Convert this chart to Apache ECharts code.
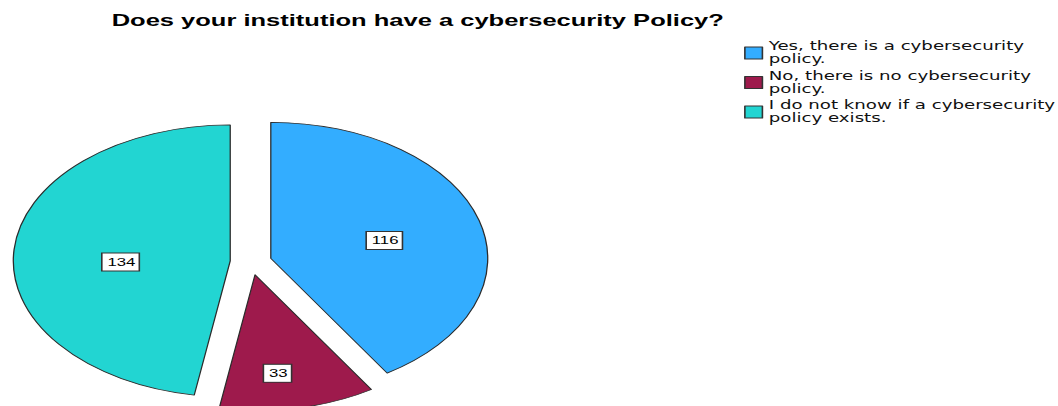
<!DOCTYPE html>
<html>
<head>
<meta charset="utf-8">
<script src="https://cdn.jsdelivr.net/npm/echarts@6/dist/echarts.min.js"></script>
<style>
  html, body { margin: 0; padding: 0; background: #fff; overflow: hidden; }
  /* the original picture is stretched sideways, so the whole chart is too */
  #myChart { position: absolute; left: 0; top: 0; width: 663.3px; height: 406px;
             transform: scaleX(1.595); transform-origin: 0 0; }
</style>
</head>
<body>
<div id="myChart"></div>
<script>
  var titleText = 'Does your institution have a cybersecurity Policy?';
  var categories = [
    'Yes, there is a cybersecurity policy.',
    'No, there is no cybersecurity policy.',
    'I do not know if a cybersecurity policy exists.'
  ];
  var counts = [116, 33, 134];
  var colors = ['#33adff', '#9e1a4c', '#22d5d2'];
  // label nudges, like the SPSS output
  var labelShift = [[3, 2], [0, 29], [2, 7]];

  var font = 'Liberation Sans, Arial, sans-serif';

  var myChart = echarts.init(document.getElementById('myChart'), null, { renderer: 'svg' });

  var legendLines = {};
  legendLines[categories[0]] = 'Yes, there is a cybersecurity\npolicy.';
  legendLines[categories[1]] = 'No, there is no cybersecurity\npolicy.';
  legendLines[categories[2]] = 'I do not know if a cybersecurity\npolicy exists.';

  var option = {
    animation: false,
    title: {
      text: titleText,
      left: 70,
      top: 13,
      padding: 0,
      textStyle: {
        color: '#000',
        fontFamily: font,
        fontWeight: 'bold',
        fontSize: 16
      }
    },
    legend: {
      orient: 'vertical',
      left: 466.5,
      top: 40,
      padding: 0,
      itemGap: 3.5,
      itemWidth: 11,
      itemHeight: 12,
      icon: 'rect',
      selectedMode: false,
      data: categories,
      formatter: function (name) { return legendLines[name]; },
      itemStyle: { borderColor: '#333', borderWidth: 1 },
      textStyle: {
        color: '#111',
        fontFamily: 'DejaVu Sans, sans-serif',
        fontSize: 11.4,
        lineHeight: 13,
        padding: [0, 0, 0, -1]
      }
    },
    series: [{
      type: 'pie',
      center: [157.3, 262],
      radius: 136,
      startAngle: 90,
      clockwise: true,
      selectedMode: 'multiple',
      selectedOffset: 13,
      silent: true,
      itemStyle: { borderColor: '#2b2b2b', borderWidth: 0.8 },
      select: { itemStyle: { borderColor: '#2b2b2b', borderWidth: 0.8 } },
      emphasis: { scale: false },
      label: {
        show: true,
        position: 'inside',
        formatter: '{c}',
        color: '#000',
        fontFamily: font,
        fontSize: 10.5,
        backgroundColor: '#fff',
        borderColor: '#333',
        borderWidth: 1,
        padding: [3, 2, 3, 3]
      },
      labelLine: { show: false },
      labelLayout: function (params) {
        var s = labelShift[params.dataIndex];
        return { dx: s[0], dy: s[1] };
      },
      data: categories.map(function (name, i) {
        return { name: name, value: counts[i], selected: true, itemStyle: { color: colors[i] } };
      })
    }]
  };

  myChart.setOption(option);
</script>
</body>
</html>
